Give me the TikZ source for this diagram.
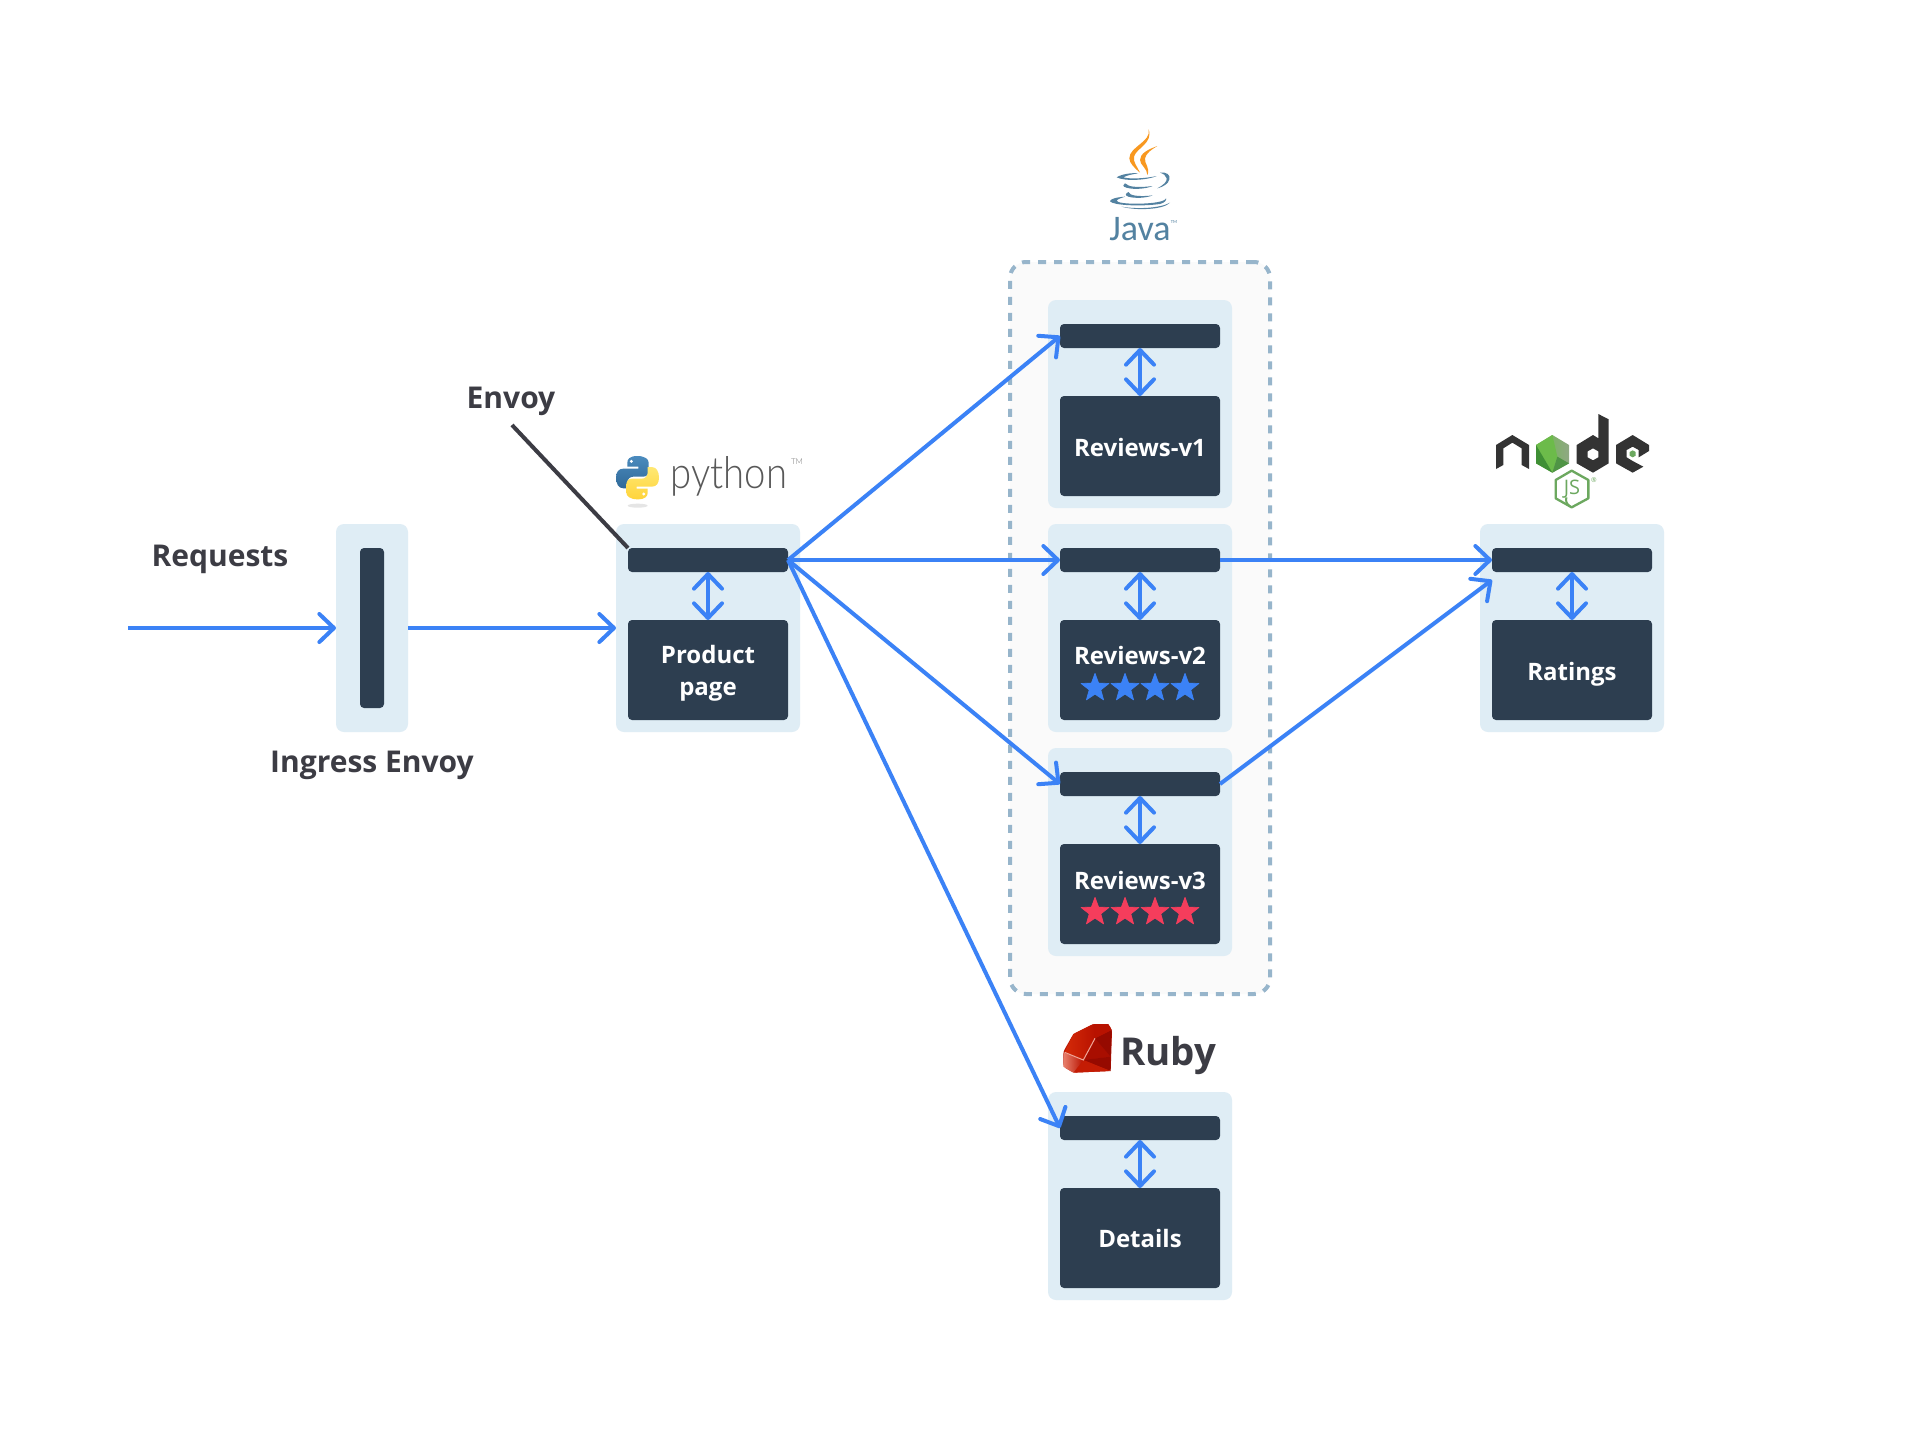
\documentclass[tikz,border=0pt]{standalone}
\usepackage{fontspec}
\setmainfont{Open Sans}
\newfontfamily\pyfont{Lato Light}
\newfontfamily\javafont{Carlito}
\usetikzlibrary{arrows.meta,shapes.geometric,calc}
\definecolor{boxbg}{HTML}{DFEDF5}
\definecolor{boxdark}{HTML}{2D3E50}
\definecolor{flow}{HTML}{3B82F6}
\definecolor{inktext}{HTML}{3C3C44}
\definecolor{dashc}{HTML}{97B5CB}
\definecolor{groupbg}{HTML}{FAFAFA}
\definecolor{starred}{HTML}{F53D5C}
\definecolor{javablue}{HTML}{5382A1}
\definecolor{javaorange}{HTML}{F89820}
\definecolor{nodedark}{HTML}{333333}
\definecolor{nodegreen}{HTML}{6CA85F}
\definecolor{nodebright}{HTML}{6CBB4A}
\definecolor{nodedeep}{HTML}{3F8F35}
\definecolor{nodegrey}{HTML}{8FA884}
\definecolor{pyblueA}{HTML}{4B8BBE}
\definecolor{pyblueB}{HTML}{306998}
\definecolor{pyyelA}{HTML}{FFE873}
\definecolor{pyyelB}{HTML}{FFD43B}
\definecolor{rubyA}{HTML}{B81200}
\definecolor{rubyB}{HTML}{D42A08}
\definecolor{rubyC}{HTML}{960A00}
\definecolor{rubyD}{HTML}{C41C04}
\definecolor{rubyE}{HTML}{E8806C}
\definecolor{rubyF}{HTML}{A80E00}
\tikzset{
  x=0.75pt,y=-0.75pt,
  outerbox/.style={fill=boxbg,rounded corners=6pt,inner sep=0,outer sep=0,minimum width=138pt,minimum height=156pt},
  sidecar/.style={fill=boxdark,rounded corners=3pt,inner sep=0,outer sep=0,minimum width=120pt,minimum height=18pt},
  appbox/.style={fill=boxdark,rounded corners=3pt,inner sep=0,outer sep=0,minimum width=120pt,minimum height=75pt},
  flowarrow/.style={draw=flow,line width=3pt,-{Straight Barb[length=11pt,width=21pt,line width=3pt,round]}},
  flowboth/.style={draw=flow,line width=3pt,{Straight Barb[length=11pt,width=21pt,line width=3pt,round]}-{Straight Barb[length=11pt,width=21pt,line width=3pt,round]}},
  applabel/.style={text=white,font=\fontsize{18pt}{24pt}\selectfont\bfseries,inner sep=0,align=center},
  biglabel/.style={text=inktext,font=\fontsize{22.5pt}{26pt}\selectfont\bfseries,inner sep=0},
  starmark/.style={star,star points=5,star point ratio=2.4,inner sep=0,outer sep=0,minimum size=22pt,line join=round,draw,line width=0.5pt},
}
\newcommand{\svc}[3]{%
  \node[outerbox] (#1o) at (#2,{#3+104}) {};
  \node[sidecar] (#1s) at (#2,{#3+36}) {};
  \node[appbox] (#1a) at (#2,{#3+146}) {};
  \draw[flowboth] (#1s.south) -- (#1a.north);
}
\begin{document}
\begin{tikzpicture}
\useasboundingbox (0,0) rectangle (1920,1428);
\fill[white] (0,0) rectangle (1920,1428);
% group
\node[fill=groupbg,draw=dashc,line width=3pt,dash pattern=on 6pt off 6pt,rounded corners=12pt,inner sep=0,minimum width=195pt,minimum height=549pt] (group) at (1140,628) {};
% ingress
\node[outerbox,minimum width=54pt] (ingo) at (372,628) {};
\node[fill=boxdark,rounded corners=3pt,inner sep=0,outer sep=0,minimum width=18pt,minimum height=120pt] (ings) at (372,628) {};
\svc{pp}{708}{524}
\svc{rone}{1140}{300}
\svc{rtwo}{1140}{524}
\svc{rthree}{1140}{748}
\svc{det}{1140}{1092}
\svc{rat}{1572}{524}
% text in boxes
\node[applabel] (pptext) at (708,673) {Product\\page};
\node[applabel,anchor=base] (ronetext) at (1140,456) {Reviews-v1};
\node[applabel,anchor=base] (rtwotext) at (1140,664) {Reviews-v2};
\node[applabel,anchor=base] (rthreetext) at (1140,889) {Reviews-v3};
\node[applabel,anchor=base] (dettext) at (1140,1247) {Details};
\node[applabel,anchor=base] (rattext) at (1572,680) {Ratings};
\foreach \i/\sx in {1/1095,2/1125,3/1155,4/1185}{
  \node[starmark,fill=flow,draw=flow] (bs\i) at (\sx,688) {};
  \node[starmark,fill=starred,draw=starred] (rs\i) at (\sx,912) {};
}
% labels
\node[biglabel,anchor=base] (requests) at (220,566) {Requests};
\node[biglabel,anchor=base] (ingresslab) at (372,772) {Ingress Envoy};
\node[biglabel,anchor=base] (envoylab) at (511,408) {Envoy};
\coordinate (reqstart) at (128,628);
\coordinate (envoyend) at (512,425);
\coordinate (ratin) at (1492,580);
\draw[flowarrow] (reqstart) -- (ingo.west);
\draw[flowarrow] (ingo.east) -- (ppo.west);
\draw[flowarrow] (pps.east) -- (rones.west);
\draw[flowarrow] (pps.east) -- (rtwos.west);
\draw[flowarrow] (pps.east) -- (rthrees.west);
\draw[flowarrow] (pps.east) -- (dets.west);
\draw[flowarrow] (rtwos.east) -- (rats.west);
\draw[flowarrow] (rthrees.east) -- (ratin);
\draw[draw=inktext,line width=3pt] (envoyend) -- (pps.north west);
% python logo
\begin{scope}[shift={(590,430)},x=0.25pt,y=-0.25pt]
  \fill[black!10] (143,227) ellipse [x radius=7.5pt,y radius=1.5pt];
  \path[shade,top color=pyblueA,bottom color=pyblueB]
   (142,78) .. controls (118,78) and (112,88) .. (112,98) -- (112,110) -- (145,110) -- (145,116) -- (100,116) .. controls (85,116) and (78,127) .. (78,143) .. controls (78,160) and (85,175) .. (100,175) -- (112,175) -- (112,158) .. controls (112,147) and (120,140) .. (130,140) -- (160,140) .. controls (170,140) and (176,132) .. (176,122) -- (176,98) .. controls (176,88) and (165,78) .. (142,78) -- cycle;
  \fill[white] (124,94) circle (1.2pt);
  \path[shade,top color=pyyelA,bottom color=pyyelB]
   (143,208) .. controls (167,208) and (173,198) .. (173,188) -- (173,176) -- (140,176) -- (140,170) -- (185,170) .. controls (200,170) and (207,159) .. (207,143) .. controls (207,126) and (200,111) .. (185,111) -- (173,111) -- (173,128) .. controls (173,139) and (165,146) .. (155,146) -- (125,146) .. controls (115,146) and (109,154) .. (109,164) -- (109,188) .. controls (109,198) and (120,208) .. (143,208) -- cycle;
  \fill[white] (161,192) circle (1.2pt);
\end{scope}
\node[inner sep=0,anchor=base,xscale=0.87,text=black!65,font=\fontsize{33pt}{33pt}\pyfont] (pytext) at (729,488) {python};
\node[inner sep=0,text=black!55,font=\fontsize{6pt}{6pt}\pyfont] (pytm) at (797,462) {TM};
% java logo
\begin{scope}[shift={(1060,100)},x=0.25pt,y=-0.25pt]
  \fill[javaorange] (266,88) .. controls (275,125) and (208,140) .. (208,175) .. controls (208,190) and (225,205) .. (240,218) .. controls (232,200) and (218,185) .. (222,170) .. controls (228,145) and (280,130) .. (266,88) -- cycle;
  \fill[javaorange] (292,138) .. controls (265,148) and (240,160) .. (240,180) .. controls (240,195) and (262,205) .. (262,225) .. controls (272,205) and (252,190) .. (255,175) .. controls (258,160) and (275,148) .. (292,138) -- cycle;
  \fill[javablue] (170,232) .. controls (185,222) and (215,218) .. (235,220) .. controls (220,222) and (200,226) .. (190,232) .. controls (210,238) and (260,235) .. (290,228) .. controls (265,240) and (195,245) .. (170,232) -- cycle;
  \fill[javablue] (300,218) .. controls (320,215) and (332,225) .. (328,238) .. controls (325,252) and (310,260) .. (292,265) .. controls (310,255) and (322,245) .. (320,235) .. controls (318,225) and (310,222) .. (300,218) -- cycle;
  \fill[javablue] (195,250) .. controls (190,255) and (188,258) .. (192,260) .. controls (210,270) and (255,268) .. (278,258) .. controls (250,262) and (215,262) .. (205,256) -- cycle;
  \fill[javablue] (205,276) .. controls (195,282) and (195,286) .. (205,290) .. controls (225,296) and (260,294) .. (278,286) .. controls (250,290) and (220,288) .. (212,283) -- cycle;
  \fill[javablue] (195,290) .. controls (165,292) and (150,298) .. (150,304) .. controls (160,316) and (240,320) .. (300,312) .. controls (315,308) and (320,300) .. (318,295) .. controls (315,305) and (280,310) .. (240,311) .. controls (200,312) and (170,308) .. (170,302) .. controls (172,297) and (185,294) .. (195,290) -- cycle;
  \fill[javablue] (185,320) .. controls (230,328) and (300,325) .. (330,308) .. controls (310,330) and (225,332) .. (185,320) -- cycle;
\end{scope}
\node[inner sep=0,anchor=base,text=javablue,font=\fontsize{27pt}{27pt}\javafont] (javatext) at (1140,240) {Java};
\node[inner sep=0,text=javablue,font=\fontsize{3.5pt}{4pt}\javafont] (javatm) at (1174,222) {TM};
% node logo
\begin{scope}[shift={(1470,400)},x=0.25pt,y=-0.25pt]
  \fill[nodedark] (78,135) -- (127,105) -- (177,135) -- (177,207) -- (155,195) -- (155,145) -- (127,128) -- (100,145) -- (100,195) -- (78,207) -- cycle;
  \path[shade,left color=nodebright,right color=nodegrey] (247,105) -- (297,135) -- (297,190) -- (247,218) -- (198,190) -- (198,135) -- cycle;
  \fill[nodebright] (247,105) -- (198,135) -- (247,218) -- (262,170) -- cycle;
  \fill[nodedeep] (198,135) -- (247,218) -- (198,190) -- cycle;
  \fill[nodedeep!80!nodegrey] (262,170) -- (297,190) -- (247,218) -- cycle;
  \fill[nodedark,even odd rule] (320,135) -- (369,105) -- (385,115) -- (385,42) -- (416,58) -- (416,190) -- (369,218) -- (320,190) -- cycle
     (369,145) -- (385,154) -- (385,172) -- (369,181) -- (353,172) -- (353,154) -- cycle;
  \fill[nodedark] (438,135) -- (488,105) -- (537,135) -- (537,153) -- (506,172) -- (506,150) -- (488,140) -- (470,150) -- (470,172) -- (488,183) -- (520,200) -- (488,218) -- (438,190) -- cycle;
  \fill[nodegreen] (488,151) -- (497,156) -- (497,167) -- (488,172) -- (479,167) -- (479,156) -- cycle;
  \draw[nodegreen,line width=1.75pt,line join=round] (305,212) -- (355,240) -- (355,295) -- (305,322) -- (257,295) -- (257,240) -- cycle;
  \draw[nodegreen,line width=1.5pt] (289,292) .. controls (286,305) and (291,312) .. (300,320);
\end{scope}
\node[inner sep=0,text=nodegreen,font=\fontsize{15pt}{15pt}\selectfont] (jstext) at (1572,489) {JS};
\node[inner sep=0,text=nodegreen,font=\fontsize{5pt}{5pt}\selectfont] (jsreg) at (1594,480) {®};
% ruby logo
\begin{scope}[shift={(1040,1010)},x=0.25pt,y=-0.25pt]
  \fill[rubyA,rounded corners=2pt] (70,125) -- (100,72) -- (160,42) -- (205,42) -- (216,60) -- (212,183) -- (100,188) -- (70,170) -- cycle;
  \path[shade,left color=rubyB,right color=rubyA] (100,72) -- (160,42) -- (165,85) -- (130,150) -- (74,126) -- cycle;
  \fill[rubyF] (165,85) -- (212,140) -- (130,150) -- cycle;
  \fill[rubyC] (165,85) -- (215,60) -- (212,140) -- cycle;
  \fill[rubyA] (160,42) -- (205,42) -- (215,60) -- (165,85) -- cycle;
  \fill[rubyC] (130,150) -- (212,140) -- (212,183) -- cycle;
  \fill[rubyD] (130,150) -- (212,183) -- (100,188) -- cycle;
  \path[shade,left color=rubyE,right color=rubyA] (72,128) -- (130,150) -- (100,188) -- (70,170) -- cycle;
  \draw[rubyE!70!white,line width=0.75pt] (74,127) -- (130,150) -- (165,85);
\end{scope}
\node[inner sep=0,anchor=base,text=inktext,font=\fontsize{28.8pt}{28pt}\selectfont\bfseries] (rubytext) at (1168,1065) {Ruby};
\end{tikzpicture}
\end{document}
